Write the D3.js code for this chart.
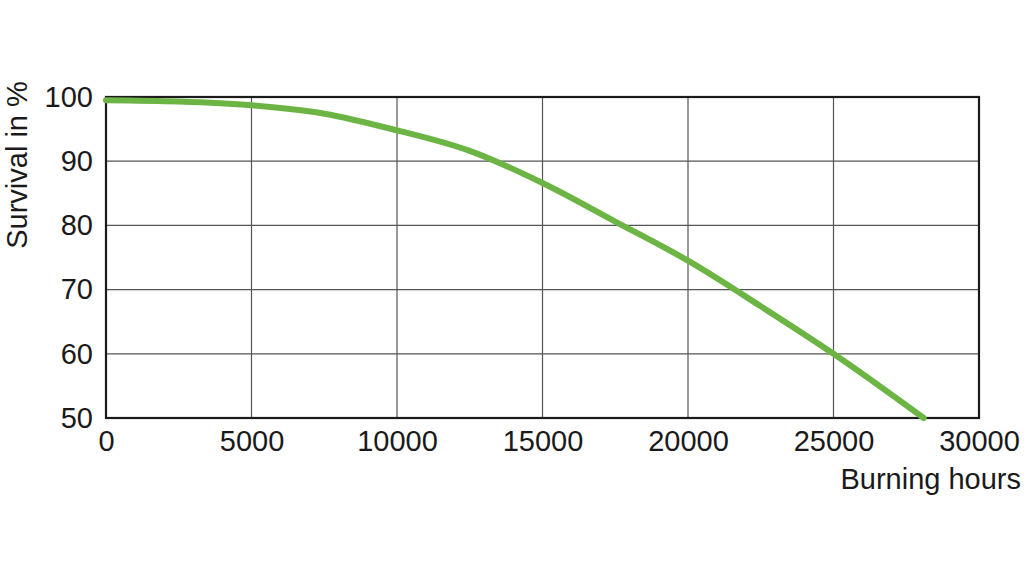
<!DOCTYPE html>
<html><head><meta charset="utf-8">
<script src="https://cdn.jsdelivr.net/npm/d3@7"></script>
<style>body{margin:0;background:#fff}svg{display:block}text{font-family:"Liberation Sans",Arial,sans-serif;fill:#1a1a1a}</style>
</head><body><svg id="c" width="1024" height="577"></svg>
<script>
const hours = [0, 2500, 5000, 7500, 10000, 12500, 15000, 17500, 20000, 22500, 25000, 28100];
const survival = [99.5, 99.3, 98.7, 97.4, 94.8, 91.6, 86.6, 80.6, 74.5, 67.4, 60, 50];
const xTicks = [0, 5000, 10000, 15000, 20000, 25000, 30000];
const yTicks = [50, 60, 70, 80, 90, 100];
const xTitle = "Burning hours";
const yTitle = "Survival in %";

const svg = d3.select("#c");
const L = 106, R = 979, T = 97, B = 418;
const x = d3.scaleLinear().domain([0, 30000]).range([L, R]);
const y = d3.scaleLinear().domain([50, 100]).range([B, T]);

// grid
svg.append("g").selectAll("line").data(xTicks.slice(1, -1)).join("line")
  .attr("x1", d => x(d)).attr("x2", d => x(d)).attr("y1", T).attr("y2", B)
  .attr("stroke", "#555").attr("stroke-width", 1.2);
svg.append("g").selectAll("line").data(yTicks.slice(1, -1)).join("line")
  .attr("y1", d => y(d)).attr("y2", d => y(d)).attr("x1", L).attr("x2", R)
  .attr("stroke", "#555").attr("stroke-width", 1.2);

// axes labels via d3 axes
const xa = svg.append("g").attr("transform", `translate(0,${B})`)
  .call(d3.axisBottom(x).tickValues(xTicks).tickFormat(d3.format("d")).tickSize(0).tickPadding(12));
const ya = svg.append("g").attr("transform", `translate(${L},0)`)
  .call(d3.axisLeft(y).tickValues(yTicks).tickSize(0).tickPadding(13));
[xa, ya].forEach(g => { g.select(".domain").remove(); g.selectAll("text").attr("font-size", 29).attr("font-family", '"Liberation Sans",Arial,sans-serif').attr("fill", "#1a1a1a"); });

// frame
svg.append("rect").attr("x", L).attr("y", T).attr("width", R - L).attr("height", B - T)
  .attr("fill", "none").attr("stroke", "#1a1a1a").attr("stroke-width", 2.2);

// curve
const line = d3.line().x((d, i) => x(hours[i])).y((d, i) => y(survival[i])).curve(d3.curveMonotoneX);
svg.append("path").datum(survival).attr("d", line)
  .attr("fill", "none").attr("stroke", "#6cb544").attr("stroke-width", 6).attr("stroke-linecap", "round");

// titles
svg.append("text").attr("x", 1021).attr("y", 489).attr("text-anchor", "end").attr("font-size", 29).text(xTitle);
svg.append("text").attr("transform", "translate(27,165) rotate(-90)").attr("text-anchor", "middle").attr("font-size", 29).text(yTitle);
</script></body></html>
